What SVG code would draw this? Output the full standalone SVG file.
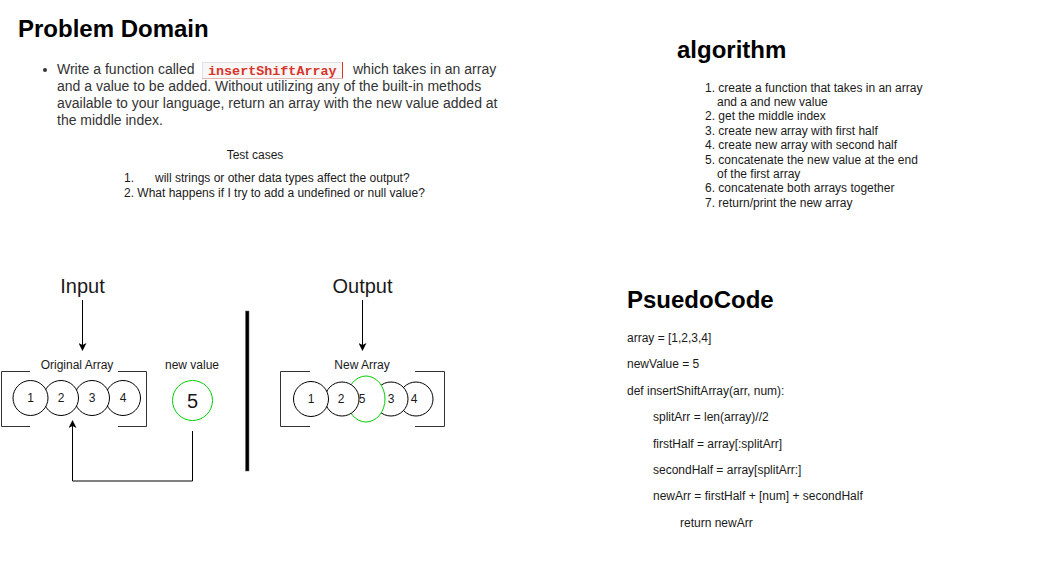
<svg xmlns="http://www.w3.org/2000/svg" width="1064" height="561" viewBox="0 0 1064 561">
<style>
  text { font-family: "Liberation Sans", Arial, sans-serif; fill: #000; }
  .h { font-size: 24px; font-weight: bold; }
  .p { font-size: 14px; fill: #333; }
  .s { font-size: 12px; fill: #1a1a1a; }
  .big { font-size: 20px; fill: #1a1a1a; }
  .c { fill: #fff; stroke: #000; stroke-width: 1; }
  .g { fill: #fff; stroke: #00cc00; stroke-width: 1; }
  .br { fill: none; stroke: #333; stroke-width: 1; }
  .ln { fill: none; stroke: #000; stroke-width: 1; }
  .mid { text-anchor: middle; }
</style>
<defs>
  <marker id="ah" markerWidth="8" markerHeight="8" refX="7" refY="4" orient="auto" markerUnits="userSpaceOnUse">
    <path d="M0,0 L8,4 L0,8 L2,4 Z" fill="#000"/>
  </marker>
</defs>
<rect x="0" y="0" width="1064" height="561" fill="#fff"/>

<g id="problem-domain">
  <text class="h" x="18" y="37">Problem Domain</text>
  <circle cx="45" cy="70" r="2" fill="#333"/>
  <text class="p" x="57" y="74">Write a function called</text>
  <rect x="202.5" y="62.5" width="140" height="16" fill="#f7f7f7" stroke="#e1e1e8"/>
  <line x1="342.5" y1="62" x2="342.5" y2="79" stroke="#d9352c"/>
  <line x1="202" y1="78.5" x2="343" y2="78.5" stroke="#e6b4b0"/>
  <text x="208" y="75" style="font-family:'Liberation Mono','DejaVu Sans Mono',monospace;font-size:13.4px;font-weight:bold;fill:#d9352c">insertShiftArray</text>
  <text class="p" x="353" y="74">which takes in an array</text>
  <text class="p" x="57" y="91">and a value to be added. Without utilizing any of the built-in methods</text>
  <text class="p" x="57" y="108">available to your language, return an array with the new value added at</text>
  <text class="p" x="57" y="125">the middle index.</text>
</g>

<g id="test-cases">
  <text class="s mid" x="255" y="159">Test cases</text>
  <text class="s" x="124" y="182">1.</text>
  <text class="s" x="155" y="182">will strings or other data types affect the output?</text>
  <text class="s" x="124" y="197">2. What happens if I try to add a undefined or null value?</text>
</g>

<g id="algorithm">
  <text class="h" x="677" y="58">algorithm</text>
  <text class="s" x="705" y="92">1. create a function that takes in an array</text>
  <text class="s" x="717" y="106">and a and new value</text>
  <text class="s" x="705" y="120">2. get the middle index</text>
  <text class="s" x="705" y="135">3. create new array with first half</text>
  <text class="s" x="705" y="149">4. create new array with second half</text>
  <text class="s" x="705" y="164">5. concatenate the new value at the end</text>
  <text class="s" x="717" y="178">of the first array</text>
  <text class="s" x="705" y="192">6. concatenate both arrays together</text>
  <text class="s" x="705" y="207">7. return/print the new array</text>
</g>

<g id="pseudocode">
  <text class="h" x="627" y="308">PsuedoCode</text>
  <text class="s" x="627" y="342">array = [1,2,3,4]</text>
  <text class="s" x="627" y="368">newValue = 5</text>
  <text class="s" x="627" y="395">def insertShiftArray(arr, num):</text>
  <text class="s" x="653" y="421">splitArr = len(array)//2</text>
  <text class="s" x="653" y="448">firstHalf = array[:splitArr]</text>
  <text class="s" x="653" y="474">secondHalf = array[splitArr:]</text>
  <text class="s" x="653" y="500">newArr = firstHalf + [num] + secondHalf</text>
  <text class="s" x="680" y="527">return newArr</text>
</g>

<g id="input-label">
  <text class="big mid" x="82.5" y="293">Input</text>
</g>
<g id="output-label">
  <text class="big mid" x="362.5" y="293">Output</text>
</g>

<g id="original-array">
  <text class="s mid" x="77" y="369">Original Array</text>
  <path class="br" d="M30,371.5 H1.5 V426.5 H30"/>
  <path class="br" d="M118,371.5 H146.5 V426.5 H118"/>
  <circle class="c" cx="123" cy="398" r="17.5"/>
  <circle class="c" cx="92" cy="398" r="17.5"/>
  <circle class="c" cx="61" cy="398" r="17.5"/>
  <circle class="c" cx="30.5" cy="398" r="17.5"/>
  <text class="s mid" x="30.5" y="402">1</text>
  <text class="s mid" x="61" y="402">2</text>
  <text class="s mid" x="92" y="402">3</text>
  <text class="s mid" x="123" y="402">4</text>
</g>

<g id="new-value">
  <text class="s mid" x="192" y="369">new value</text>
  <circle class="g" cx="192.5" cy="400.5" r="20"/>
  <text class="big mid" x="192.5" y="408">5</text>
</g>

<g id="divider">
  <rect x="245.5" y="311" width="3.5" height="160" fill="#000" stroke="#666" stroke-width="0.5"/>
</g>

<g id="new-array">
  <text class="s mid" x="362" y="369">New Array</text>
  <path class="br" d="M310,371.5 H280.5 V426.5 H310"/>
  <path class="br" d="M415,371.5 H444.5 V426.5 H415"/>
  <circle class="c" cx="416" cy="399" r="17"/>
  <circle class="c" cx="391" cy="399" r="17"/>
  <ellipse class="g" cx="366" cy="399" rx="19" ry="23"/>
  <circle class="c" cx="342" cy="399" r="17"/>
  <circle class="c" cx="311" cy="399" r="17.5"/>
  <text class="s mid" x="311" y="403">1</text>
  <text class="s mid" x="341" y="403">2</text>
  <text class="s mid" x="362" y="403">5</text>
  <text class="s mid" x="391" y="403">3</text>
  <text class="s mid" x="414" y="403">4</text>
</g>

<g id="connectors">
  <line class="ln" x1="82.5" y1="300" x2="82.5" y2="350" marker-end="url(#ah)"/>
  <line class="ln" x1="362.5" y1="300" x2="362.5" y2="350" marker-end="url(#ah)"/>
  <path class="ln" d="M192.5,431 V481 H72.5 V421" marker-end="url(#ah)"/>
</g>
</svg>
